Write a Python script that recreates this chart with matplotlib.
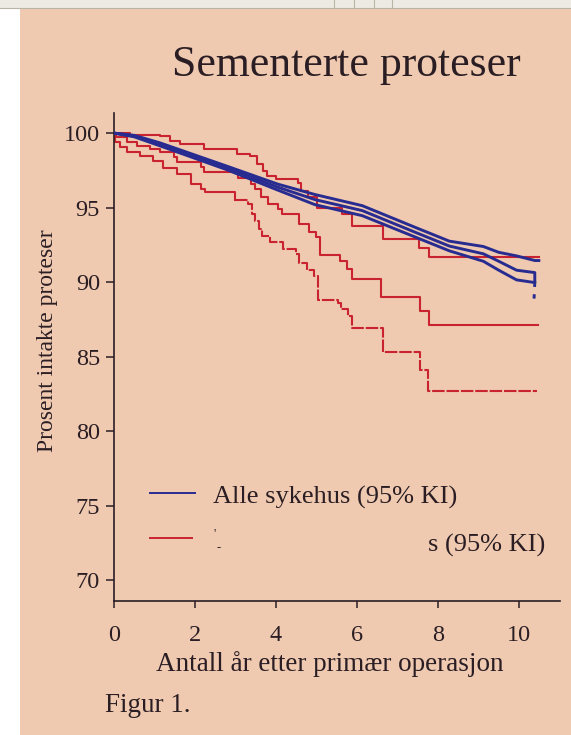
import matplotlib
matplotlib.use("Agg")
import matplotlib.pyplot as plt
from matplotlib.patches import Rectangle
from matplotlib.lines import Line2D

# ---------------- data ----------------
title = "Sementerte proteser"
xlabel = "Antall år etter primær operasjon"
ylabel = "Prosent intakte proteser"
legend_all = "Alle sykehus (95% KI)"
legend_hosp = "s (95% KI)"
xticks = [0, 2, 4, 6, 8, 10]
yticks = [70, 75, 80, 85, 90, 95, 100]

# Alle sykehus: estimate and 95% CI
blue_x = [0, 0.5, 1.13, 2.79, 4.04, 4.96, 6.13, 7.46, 8.28, 9.12, 9.5, 9.94, 10.39]
blue_upper = [100, 99.85, 99.35, 97.78, 96.58, 95.88, 95.13, 93.65, 92.75, 92.39, 92.0, 91.76, 91.45]
blue_mid = [100, 99.8, 99.25, 97.66, 96.38, 95.54, 94.8, 93.32, 92.42, 91.9, 91.4, 90.8, 90.64]
blue_lower = [100, 99.75, 99.15, 97.54, 96.18, 95.2, 94.46, 93.0, 92.1, 91.4, 90.8, 90.15, 89.97]
blue_upper_end = [10.49, 91.45]
blue_mid_end = [10.39, 90.1]
blue_lower_end = [10.37, 88.76]

# Sykehus (hospital): estimate and 95% CI (Kaplan-Meier steps)
red_upper_x = [0, 0.39, 1.13, 1.38, 1.63, 2.21, 3.04, 3.36, 3.54, 3.67, 3.79, 4.0, 4.54, 4.62,
               4.79, 5.0, 5.63, 5.88, 6.63, 7.54, 7.79, 10.5]
red_upper_y = [100, 99.89, 99.81, 99.49, 99.28, 98.92, 98.61, 98.47, 97.91, 97.48, 97.15, 96.93,
               96.62, 96.13, 95.74, 94.97, 94.55, 93.78, 92.92, 92.3, 91.7, 91.7]

red_mid_x = [0, 0.05, 0.31, 0.56, 0.89, 1.14, 1.47, 1.55, 2.14, 2.22, 3.05, 3.39, 3.47, 3.64,
             3.81, 4.06, 4.15, 4.56, 4.81, 4.98, 5.08, 5.58, 5.76, 5.88, 6.6, 7.55, 7.77, 10.48]
red_mid_y = [100, 99.75, 99.43, 99.11, 98.91, 98.7, 98.37, 98.04, 97.74, 97.41, 97.0, 96.56,
             96.23, 95.68, 95.24, 94.92, 94.59, 93.93, 93.39, 93.06, 91.84, 91.4, 90.89, 90.19,
             89.0, 88.04, 87.11, 87.11]

red_lower_x = [0, 0.02, 0.15, 0.31, 0.64, 0.97, 1.22, 1.55, 1.91, 2.16, 2.24, 2.99, 3.32, 3.4,
               3.49, 3.58, 3.66, 3.84, 4.17, 4.5, 4.56, 4.76, 4.93, 5.03, 5.53, 5.61, 5.79, 5.87,
               6.63, 7.55, 7.76, 10.45]
red_lower_y = [100, 99.42, 99.09, 98.76, 98.44, 98.12, 97.69, 97.26, 96.6, 96.28, 96.02, 95.54,
               95.21, 94.55, 94.11, 93.55, 93.11, 92.67, 92.24, 91.92, 91.25, 90.82, 90.38, 88.81,
               88.61, 88.17, 87.73, 86.95, 85.29, 84.12, 82.7, 82.7]

# ---------------- style ----------------
W, H = 571, 735
BG = "#F0CAB0"
BLUE = "#282C90"
RED = "#C8232E"
INK = "#2A1E24"
SERIF = ["Liberation Serif", "DejaVu Serif"]

plt.rcParams["font.family"] = SERIF

fig = plt.figure(figsize=(W / 100, H / 100), dpi=100)
fig.patch.set_facecolor(BG)

# screenshot surroundings: browser status bar and white strip on the left
fig.patches.append(Rectangle((0, 1 - 9 / H), 1, 9 / H, transform=fig.transFigure,
                             facecolor="#ECEAE2", edgecolor="none", zorder=0))
fig.patches.append(Rectangle((0, 0), 20 / W, 1 - 9 / H, transform=fig.transFigure,
                             facecolor="white", edgecolor="none", zorder=0))
fig.add_artist(Line2D([0, 1], [1 - 8 / H, 1 - 8 / H], transform=fig.transFigure,
                      color="#B8B4A8", lw=0.8))
for px in [334, 354, 374, 392]:
    fig.add_artist(Line2D([px / W, px / W], [1 - 8 / H, 1], transform=fig.transFigure,
                          color="#B8B4A8", lw=0.8))

# axes placement (pixels)
ax_left, ax_right = 114, 559.5
ax_bottom, ax_top = 601, 113
ax = fig.add_axes([ax_left / W, 1 - ax_bottom / H, (ax_right - ax_left) / W,
                   (ax_bottom - ax_top) / H])
ax.set_facecolor("none")
ax.set_xlim(0, 11.0)
ax.set_ylim(68.6, 101.35)

for s in ["top", "right"]:
    ax.spines[s].set_visible(False)
for s in ["left", "bottom"]:
    ax.spines[s].set_color(INK)
    ax.spines[s].set_linewidth(1.2)

ax.set_xticks(xticks)
ax.set_yticks(yticks)
ax.tick_params(axis="x", direction="out", length=5, width=1.1, color=INK, pad=12,
               labelsize=17.5, labelcolor=INK)
ax.tick_params(axis="y", direction="out", length=6, width=1.1, color=INK, pad=4,
               labelsize=17.5, labelcolor=INK)

# hospital curves (red)
ax.plot(red_upper_x, red_upper_y, drawstyle="steps-post", color=RED, lw=1.5, zorder=2)
ax.plot(red_mid_x, red_mid_y, drawstyle="steps-post", color=RED, lw=1.5, zorder=2)
ax.plot(red_lower_x[:12], red_lower_y[:12], drawstyle="steps-post", color=RED, lw=1.5, zorder=2)
ax.plot(red_lower_x[11:], red_lower_y[11:], drawstyle="steps-post", color=RED, lw=1.5,
        dashes=(6, 0.9), zorder=2)

# all hospitals (blue)
ax.plot(blue_x + [blue_upper_end[0]], blue_upper + [blue_upper_end[1]], color=BLUE, lw=2.1, zorder=3)
ax.plot(blue_x + [blue_mid_end[0]], blue_mid + [blue_mid_end[1]], color=BLUE, lw=2.1, zorder=3)
ax.plot(blue_x, blue_lower, color=BLUE, lw=2.1, zorder=3)
ax.plot([blue_x[-1], blue_lower_end[0]], [blue_lower[-1], blue_lower_end[1]], color=BLUE,
        lw=2.1, dashes=(1.5, 2.5), zorder=3)

# labels
ax.set_xlabel(xlabel, fontsize=19.5, color=INK, va="top")
ax.xaxis.set_label_coords((330 - ax_left) / (ax_right - ax_left),
                          (ax_bottom - 651) / (ax_bottom - ax_top))
ax.set_ylabel(ylabel, fontsize=17, color=INK)
ax.yaxis.set_label_coords((58 - ax_left) / (ax_right - ax_left),
                          (ax_bottom - 341) / (ax_bottom - ax_top))

fig.text(346 / W, 1 - 76 / H, title, ha="center", va="baseline", fontsize=31.5, color=INK)
fig.text(105 / W, 1 - 712 / H, "Figur 1.", ha="left", va="baseline", fontsize=19.5, color=INK)

# legend (drawn by hand, in axes coordinates)
def axx(px):
    return (px - ax_left) / (ax_right - ax_left)

def axy(py):
    return (ax_bottom - py) / (ax_bottom - ax_top)

ax.plot([axx(150), axx(195)], [axy(493), axy(493)], transform=ax.transAxes, color=BLUE, lw=1.4)
ax.plot([axx(150), axx(192)], [axy(538), axy(538)], transform=ax.transAxes, color=RED, lw=1.4)
ax.text(axx(213), axy(504), legend_all, transform=ax.transAxes, ha="left", va="baseline",
        fontsize=19, color=INK)
ax.text(axx(545), axy(552), legend_hosp, transform=ax.transAxes, ha="right", va="baseline",
        fontsize=19, color=INK)
ax.text(axx(215), axy(537), "'", transform=ax.transAxes, ha="center", va="baseline",
        fontsize=9, color=INK)
ax.text(axx(219), axy(551), "-", transform=ax.transAxes, ha="center", va="baseline",
        fontsize=9, color=INK)

fig.savefig("out.png", dpi=100, facecolor=fig.get_facecolor())
